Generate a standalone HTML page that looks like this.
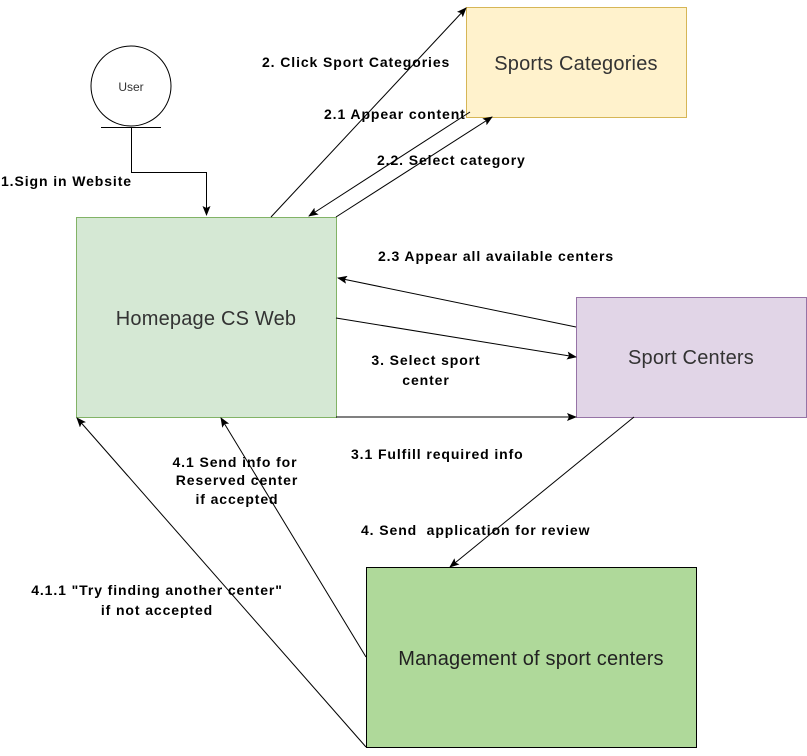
<!DOCTYPE html>
<html><head><meta charset="utf-8"><style>
html,body{margin:0;padding:0;background:#fff;}
svg{display:block;}
text{font-family:"Liberation Sans",Arial,sans-serif;}
.l{font-size:14px;font-weight:bold;fill:#000;letter-spacing:0.9px;}
.b{font-size:20px;letter-spacing:0.2px;}
</style></head><body>
<svg width="807" height="756" xmlns="http://www.w3.org/2000/svg">
<defs><marker id="a" markerWidth="10" markerHeight="8" refX="9" refY="4" orient="auto" markerUnits="userSpaceOnUse"><path d="M0,0 L10,4 L0,8 L2,4 z" fill="#000"/></marker></defs>
<rect x="466.5" y="7.5" width="220" height="110" fill="#fff2cc" stroke="#d6b656"/>
<text class="b" x="576" y="70" text-anchor="middle" fill="#333">Sports Categories</text>
<rect x="76.5" y="217.5" width="260" height="200" fill="#d5e8d4" stroke="#82b366"/>
<text class="b" x="206" y="325" text-anchor="middle" fill="#333">Homepage CS Web</text>
<rect x="576.5" y="297.5" width="230" height="120" fill="#e1d5e7" stroke="#9673a6"/>
<text class="b" x="691" y="364" text-anchor="middle" fill="#333">Sport Centers</text>
<rect x="366.5" y="567.5" width="330" height="180" fill="#afd99a" stroke="#000"/>
<text class="b" x="531" y="665" text-anchor="middle" fill="#222">Management of sport centers</text>
<circle cx="131" cy="86" r="40" fill="#fff" stroke="#000"/>
<text x="131" y="91" font-size="12" text-anchor="middle" fill="#333">User</text>
<line x1="101" y1="127.5" x2="161" y2="127.5" stroke="#000"/>
<path d="M131.5,127 V172.5 H206.5 V215" fill="none" stroke="#000" marker-end="url(#a)"/>
<g stroke="#000" fill="none" marker-end="url(#a)">
<line x1="271" y1="217" x2="466" y2="8"/>
<line x1="470" y1="112" x2="309" y2="216"/>
<line x1="336" y1="217" x2="492" y2="117"/>
<line x1="576" y1="327" x2="338" y2="278"/>
<line x1="336" y1="318" x2="576" y2="357"/>
<line x1="336" y1="417" x2="576" y2="417"/>
<line x1="634" y1="417" x2="450" y2="567"/>
<line x1="366" y1="657" x2="221" y2="418"/>
<line x1="366" y1="747" x2="77" y2="418"/>
</g>
<text class="l" x="1" y="186">1.Sign in Website</text>
<text class="l" x="262" y="67">2. Click Sport Categories</text>
<text class="l" x="324" y="119">2.1 Appear content</text>
<text class="l" x="377" y="165">2.2. Select category</text>
<text class="l" x="378" y="261">2.3 Appear all available centers</text>
<text class="l" x="426" y="365" text-anchor="middle">3. Select sport</text>
<text class="l" x="426" y="385" text-anchor="middle">center</text>
<text class="l" x="351" y="459">3.1 Fulfill required info</text>
<text class="l" x="361" y="535">4. Send&#160; application for review</text>
<text class="l" x="235" y="467" text-anchor="middle">4.1 Send info for</text>
<text class="l" x="237" y="485" text-anchor="middle">Reserved center</text>
<text class="l" x="237" y="504" text-anchor="middle">if accepted</text>
<text class="l" x="157" y="595" text-anchor="middle">4.1.1 "Try finding another center"</text>
<text class="l" x="157" y="615" text-anchor="middle">if not accepted</text>
</svg>
</body></html>
